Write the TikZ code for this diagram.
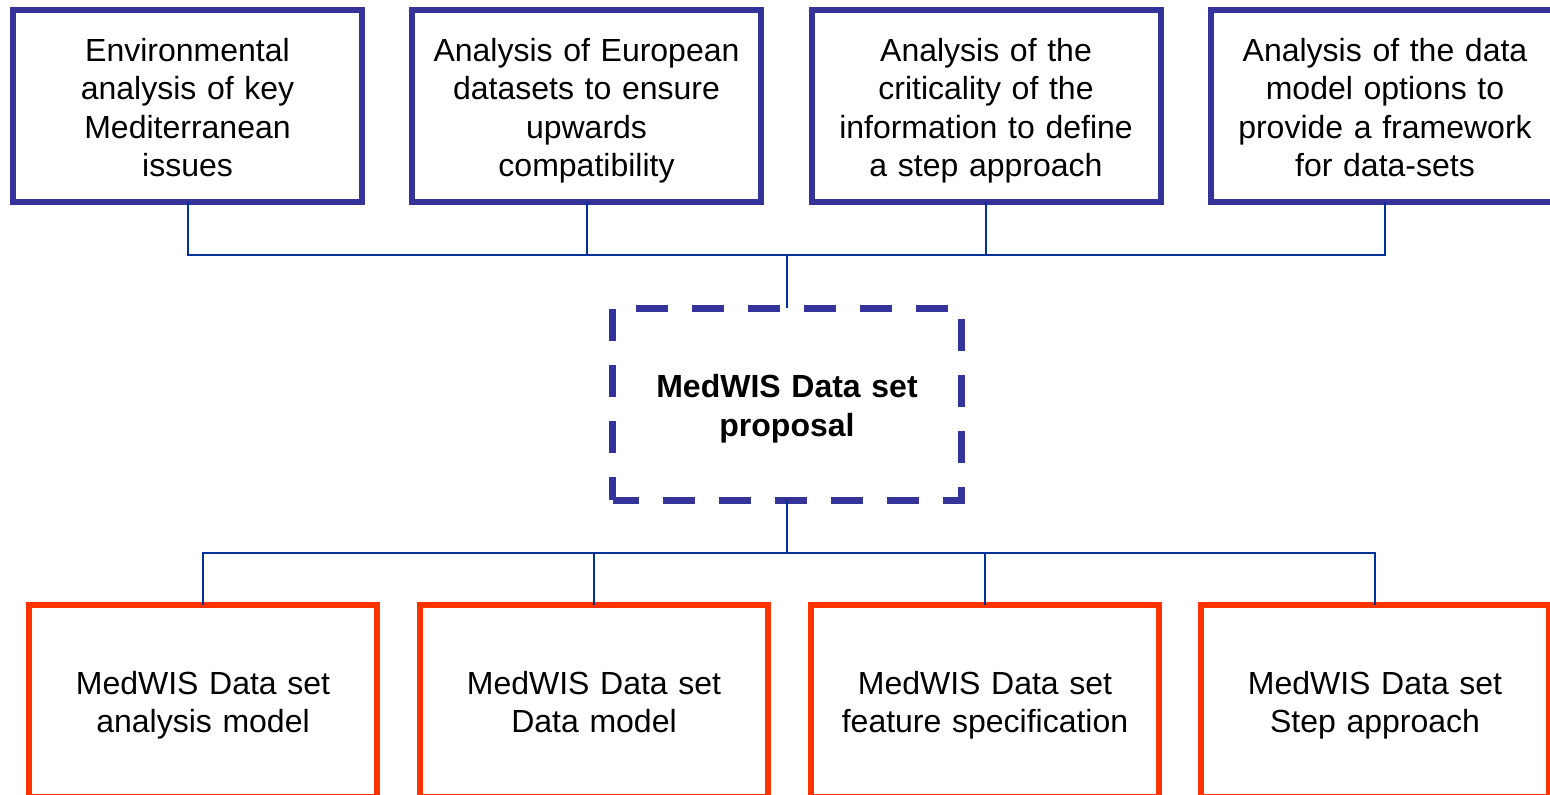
\documentclass[tikz,border=0pt]{standalone}
\usepackage{fontspec}
\setmainfont{Liberation Sans}
\definecolor{boxblue}{RGB}{51,51,153}
\definecolor{boxred}{RGB}{255,51,0}
\definecolor{connblue}{RGB}{0,51,153}
\newcommand{\topstrut}{\rule{0pt}{32.5pt}}
\newcommand{\botstrut}{\rule[-7pt]{0pt}{7pt}}
\tikzset{
  boxbase/.style={rectangle, inner sep=0pt, outer sep=0pt, text width=340pt, align=center,
    execute at begin node=\topstrut, execute at end node=\botstrut},
  topbox/.style={boxbase, draw=boxblue, line width=6pt, minimum width=349pt, minimum height=192pt,
    font=\fontsize{32}{38.5}\selectfont},
  botbox/.style={boxbase, draw=boxred, line width=6pt, minimum width=348pt, minimum height=192pt,
    font=\fontsize{32}{38}\selectfont},
  propbox/.style={boxbase, draw=boxblue, line width=7pt, minimum width=348.6pt, minimum height=192pt,
    dash pattern=on 32pt off 24pt, dash phase=6pt,
    font=\fontsize{32}{39}\selectfont\bfseries},
  conn/.style={draw=connblue, line width=2pt}
}
\begin{document}
\begin{tikzpicture}[x=1pt,y=-1pt]
\useasboundingbox (0,0) rectangle (1550,795);
\clip (0,0) rectangle (1550,795);
\node[topbox] (t1) at (187.5,106) {Environmental\\analysis of key\\Mediterranean\\issues};
\node[topbox] (t2) at (586.5,106) {Analysis of European\\datasets to ensure\\upwards\\compatibility};
\node[topbox] (t3) at (986,106) {Analysis of the\\criticality of the\\information to define\\a step approach};
\node[topbox] (t4) at (1385,106) {Analysis of the data\\model options to\\provide a framework\\for data-sets};
\node[propbox] (prop) at (787,404) {MedWIS Data set\\proposal};
\node[botbox] (b1) at (203,701) {MedWIS Data set\\analysis model};
\node[botbox] (b2) at (594,701) {MedWIS Data set\\Data model};
\node[botbox] (b3) at (985,701) {MedWIS Data set\\feature specification};
\node[botbox] (b4) at (1375,701) {MedWIS Data set\\Step approach};
\coordinate (jt) at (787,255);
\coordinate (jb) at (787,553);
\draw[conn] (t1.south) |- (t4.south |- jt) -- (t4.south);
\draw[conn] (t2.south) -- (t2.south |- jt);
\draw[conn] (t3.south) -- (t3.south |- jt);
\draw[conn] (jt) -- (prop.north);
\draw[conn] (prop.south) -- (jb);
\draw[conn] (b1.north) |- (b4.north |- jb) -- (b4.north);
\draw[conn] (b2.north) -- (b2.north |- jb);
\draw[conn] (b3.north) -- (b3.north |- jb);
\end{tikzpicture}
\end{document}
